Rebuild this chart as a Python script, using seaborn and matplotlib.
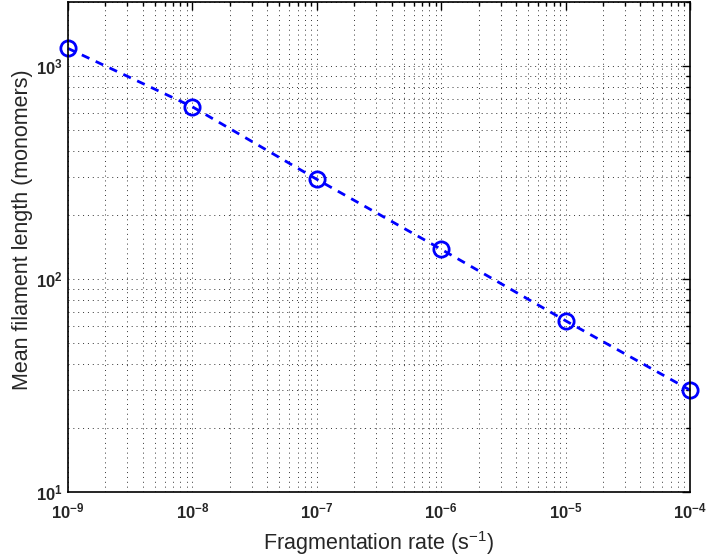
import math
import matplotlib
matplotlib.use("Agg")
import matplotlib.pyplot as plt
import seaborn as sns
import pandas as pd
from matplotlib.ticker import LogLocator, FuncFormatter, NullFormatter

frag_rate = [1e-9, 1e-8, 1e-7, 1e-6, 1e-5, 1e-4]
mean_length = [1211, 644, 294, 138, 63.7, 30.1]
x_ticks = [1e-9, 1e-8, 1e-7, 1e-6, 1e-5, 1e-4]
y_ticks = [10, 100, 1000]

sns.set_style("white")
plt.rcParams['font.family'] = ['Liberation Sans', 'DejaVu Sans']
plt.rcParams['mathtext.fontset'] = 'custom'
plt.rcParams['mathtext.rm'] = 'Liberation Sans'
plt.rcParams['mathtext.it'] = 'Liberation Sans:italic'
plt.rcParams['mathtext.bf'] = 'Liberation Sans:bold'

df = pd.DataFrame({"rate": frag_rate, "length": mean_length})

fig = plt.figure(figsize=(7.06, 5.57), dpi=100)
ax = fig.add_axes([68/706, (557-492)/557, (690-68)/706, (492-2)/557])

sns.lineplot(data=df, x="rate", y="length", ax=ax, color="#0000ff",
             linestyle="--", linewidth=2, marker="o", markersize=11,
             markerfacecolor="none", markeredgecolor="#0000ff",
             markeredgewidth=2, dashes=False)
ax.lines[0].set_linestyle((0, (3, 2.5)))
ax.lines[0].set_clip_on(False)

ax.set_xscale("log")
ax.set_yscale("log")
ax.set_xlim(1e-9, 1e-4)
ax.set_ylim(10, 2000)

ax.set_xticks(x_ticks)
ax.set_yticks(y_ticks)
fmt = FuncFormatter(lambda v, p: r"$\mathbf{10^{%d}}$" % round(math.log10(v)))
ax.xaxis.set_major_formatter(fmt)
ax.yaxis.set_major_formatter(fmt)
ax.xaxis.set_minor_locator(LogLocator(base=10, subs=range(2, 10)))
ax.yaxis.set_minor_locator(LogLocator(base=10, subs=range(2, 10)))
ax.xaxis.set_minor_formatter(NullFormatter())
ax.yaxis.set_minor_formatter(NullFormatter())

ax.grid(True, which="both", linestyle=(0, (1, 4)), color="#333333", linewidth=0.7)
ax.tick_params(which="both", direction="in", top=True, right=True,
               labelsize=12, width=1, color="black")
ax.tick_params(axis="x", which="major", pad=7)
ax.tick_params(which="major", length=6)
ax.tick_params(which="minor", length=3)
for s in ax.spines.values():
    s.set_visible(True)
    s.set_color("black")
    s.set_linewidth(1.2)

ax.set_xlabel(r"Fragmentation rate (s$^{-1}$)", fontsize=15.5)
ax.set_ylabel("Mean filament length (monomers)", fontsize=15.5)
ax.xaxis.set_label_coords(0.5, -0.076)
ax.yaxis.set_label_coords(-0.057, 0.535)

fig.savefig("out.png", dpi=100)
